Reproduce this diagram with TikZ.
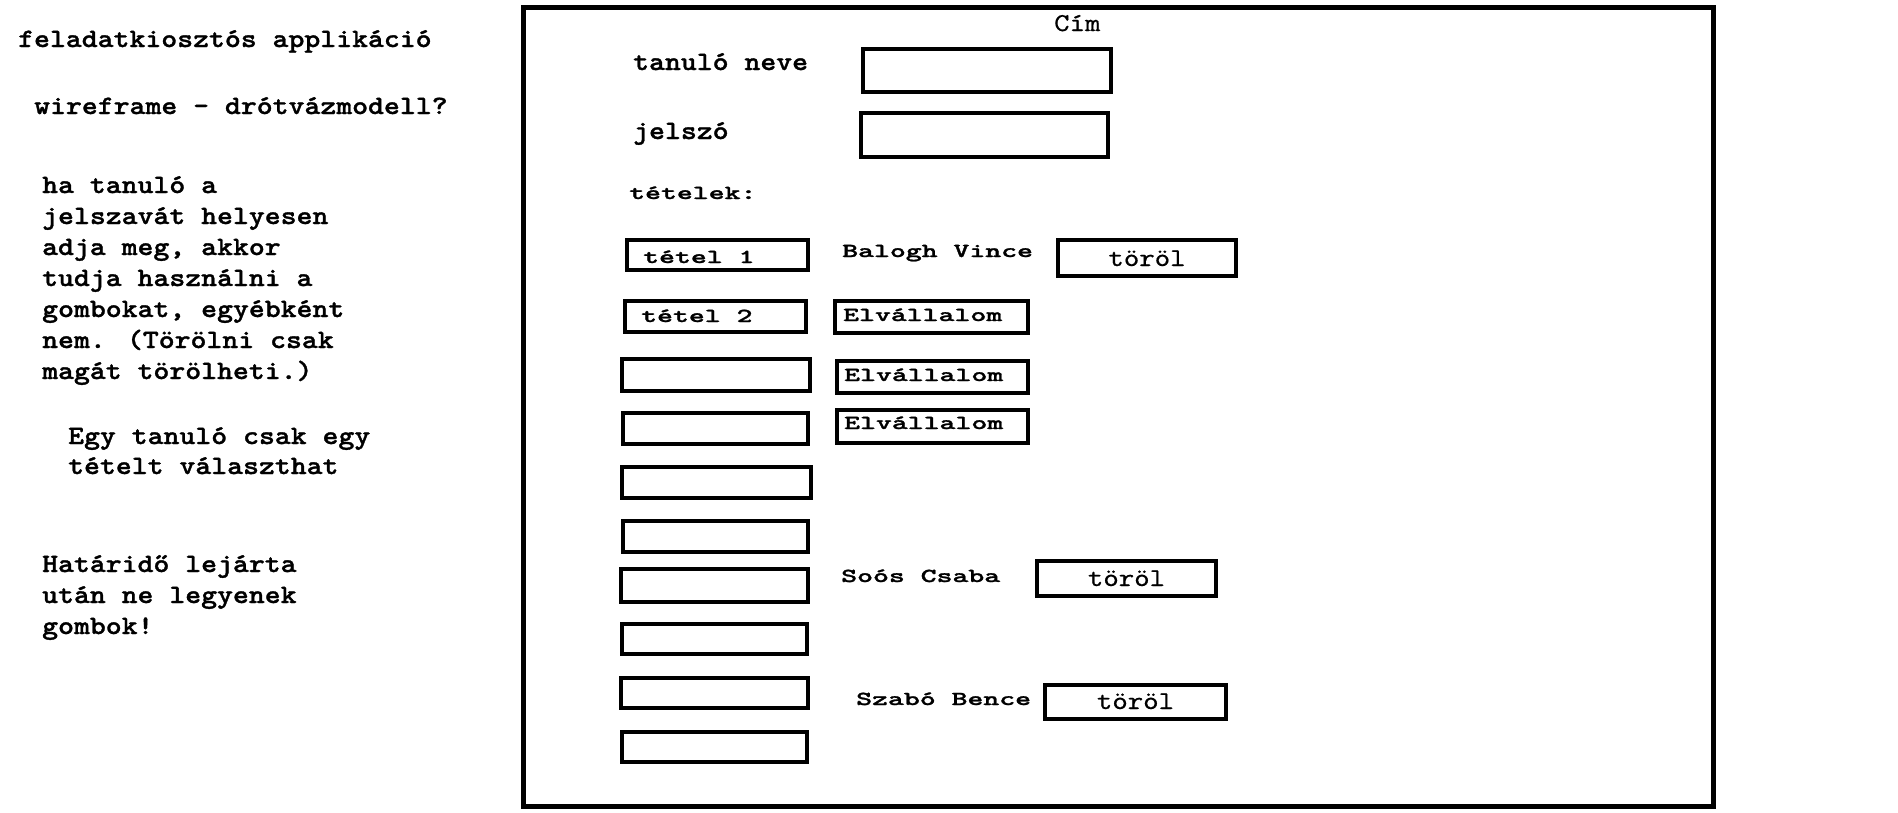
\documentclass[tikz,border=0pt]{standalone}
\usepackage{fontspec}
\usepackage{graphicx}
\setmainfont{Liberation Mono}
\newfontfamily\courr[Extension=.otf,FakeStretch=1.143,FakeBold=0.6]{lmmono10-regular}
\newfontfamily\courb[Extension=.otf,FakeStretch=1.143,FakeBold=1.2]{lmmonolt10-bold}
\newcommand\sqz[1]{\scalebox{1}[0.75]{#1}}
\begin{document}
\begin{tikzpicture}[x=1pt,y=-1pt,
  box/.style={draw=black,line width=4.5pt},
  frm/.style={draw=black,line width=5pt},
  txt/.style={anchor=base west,inner sep=0pt,font=\fontsize{26.5}{31}\selectfont\courb},
  reg/.style={anchor=base,inner sep=0pt,font=\fontsize{25.7}{31}\selectfont\courr}]
\useasboundingbox[fill=white] (0,0) rectangle (1898,812);
% left notes
\node[txt] (t1) at (18,47) {feladatkiosztós applikáció};
\node[txt] (t2) at (34,114) {wireframe - drótvázmodell?};
\node[txt] (p1) at (42,193) {ha tanuló a};
\node[txt] (p2) at (42,224) {jelszavát helyesen};
\node[txt] (p3) at (42,255) {adja meg, akkor};
\node[txt] (p4) at (42,286) {tudja használni a};
\node[txt] (p5) at (42,317) {gombokat, egyébként};
\node[txt] (p6) at (42,348) {nem. (Törölni csak};
\node[txt] (p7) at (42,379) {magát törölheti.)};
\node[txt] (e1) at (68,444) {Egy tanuló csak egy};
\node[txt] (e2) at (68,474) {tételt választhat};
\node[txt] (h1) at (42,572) {Határidő lejárta};
\node[txt] (h2) at (42,603) {után ne legyenek};
\node[txt] (h3) at (42,634) {gombok!};
% frame
\draw[frm] (523.5,7.5) rectangle (1713.5,806.5);
\node[reg,anchor=base west] (cim) at (1054,31) {Cím};
\node[txt] (lname) at (633,70) {tanuló neve};
\node[txt] (lpw) at (633,139) {jelszó};
\draw[box] (863,49) rectangle (1111,92);
\draw[box] (861,113) rectangle (1108,157);
\node[txt] (ltet) at (629,199) {\sqz{tételek:}};
% rows of items
\draw[box] (627,240) rectangle (808,270);
\node[txt] (it1) at (643,263) {\sqz{tétel 1}};
\node[txt] (n1) at (842,257) {\sqz{Balogh Vince}};
\draw[box] (1058,240) rectangle (1236,276);
\node[reg] (d1) at (1147,266) {töröl};
\draw[box] (625,301) rectangle (806,332);
\node[txt] (it2) at (641,322) {\sqz{tétel 2}};
\draw[box] (835,301) rectangle (1028,333);
\node[txt] (v1) at (843,321) {\sqz{Elvállalom}};
\draw[box] (622,359) rectangle (810,391);
\draw[box] (837,361) rectangle (1028,393);
\node[txt] (v2) at (844,381) {\sqz{Elvállalom}};
\draw[box] (623,413) rectangle (808,444);
\draw[box] (837,410) rectangle (1028,443);
\node[txt] (v3) at (844,429) {\sqz{Elvállalom}};
\draw[box] (622,467) rectangle (811,498);
\draw[box] (623,521) rectangle (808,552);
\draw[box] (621,569) rectangle (808,602);
\node[txt] (n2) at (841,582) {\sqz{Soós Csaba}};
\draw[box] (1037,561) rectangle (1216,596);
\node[reg] (d2) at (1126.5,586) {töröl};
\draw[box] (622,624) rectangle (807,654);
\draw[box] (621,678) rectangle (808,708);
\node[txt] (n3) at (856,705) {\sqz{Szabó Bence}};
\draw[box] (1045,685) rectangle (1226,719);
\node[reg] (d3) at (1135.5,709) {töröl};
\draw[box] (622,732) rectangle (807,762);
\end{tikzpicture}
\end{document}
